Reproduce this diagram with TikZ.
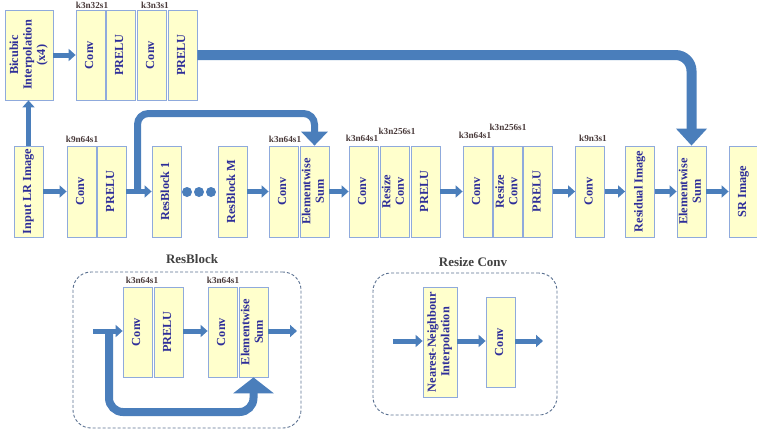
\documentclass[tikz,border=0pt]{standalone}
\usepackage{fontspec}
\setmainfont{Liberation Serif}
\usepackage{graphicx}
\usetikzlibrary{arrows.meta}
\definecolor{boxfill}{HTML}{FFFFCC}
\definecolor{boxline}{HTML}{8FAADC}
\definecolor{txt}{HTML}{2E2E99}
\definecolor{arrc}{HTML}{4A7EBB}
\definecolor{lbl}{HTML}{4A3B3B}
\definecolor{ttl}{HTML}{404040}
\definecolor{dashc}{HTML}{5B7191}
\newcommand{\vtext}[1]{\rotatebox{90}{\begin{tabular}{@{}c@{}}#1\end{tabular}}}
\begin{document}
\begin{tikzpicture}[x=1pt,y=-1pt,
  blk/.style={draw=boxline, line width=0.8pt, fill=boxfill, minimum width=29pt, minimum height=91pt, inner sep=0pt, text=txt, font=\fontsize{12.3}{13.5}\selectfont\bfseries},
  lab/.style={text=lbl, font=\fontsize{9.2}{10}\selectfont\bfseries, inner sep=0pt},
  ttlst/.style={text=ttl, font=\fontsize{13}{14}\selectfont\bfseries, inner sep=0pt},
  frame/.style={draw=dashc, dash pattern=on 3pt off 2pt, line width=0.9pt, rounded corners=18pt, inner sep=0pt},
  arr/.style={draw=arrc, line width=5pt, -{Triangle[length=7pt,width=12pt]}},
  bigarr/.style={draw=arrc, line width=10pt, rounded corners=16pt, -{Triangle[length=17pt,width=30pt]}},
  midarr/.style={draw=arrc, line width=7pt, rounded corners=11pt, -{Triangle[length=14pt,width=26pt]}},
  rbarr/.style={draw=arrc, line width=8pt, rounded corners=14pt, -{Triangle[length=16pt,width=40pt]}},
  dotst/.style={circle, fill=arrc, minimum size=10pt, inner sep=0pt}
]
\useasboundingbox (0,0) rectangle (757,434);

% ---------- top row ----------
\node[blk, minimum width=48pt, minimum height=90pt] (bic) at (29,55) {\vtext{Bicubic\\Interpolation\\(x4)}};
\node[blk, minimum height=90pt] (tc1) at (90.5,55) {\vtext{Conv}};
\node[blk, minimum height=90pt] (tp1) at (120.5,55) {\vtext{PRELU}};
\node[blk, minimum height=90pt] (tc2) at (151.5,55) {\vtext{Conv}};
\node[blk, minimum height=90pt] (tp2) at (182.5,55) {\vtext{PRELU}};
\node[lab] (l1) at (92,5) {k3n32s1};
\node[lab] (l2) at (155,5) {k3n3s1};

% ---------- middle row ----------
\node[blk] (inp) at (28.5,191.5) {\vtext{Input LR Image}};
\node[blk] (c1) at (81.5,191.5) {\vtext{Conv}};
\node[blk] (p1) at (111.5,191.5) {\vtext{PRELU}};
\node[blk] (rb1) at (166.5,191.5) {\vtext{ResBlock 1}};
\node[dotst] (d1) at (187,192) {};
\node[dotst] (d2) at (199,192) {};
\node[dotst] (d3) at (211,192) {};
\node[blk] (rbm) at (232.5,191.5) {\vtext{ResBlock M}};
\node[blk] (c2) at (283.5,191.5) {\vtext{Conv}};
\node[blk] (s1) at (314.5,191.5) {\vtext{Elementwise\\Sum}};
\node[blk] (c3) at (363.5,191.5) {\vtext{Conv}};
\node[blk] (r1) at (394.5,191.5) {\vtext{Resize\\Conv}};
\node[blk] (p3) at (425.5,191.5) {\vtext{PRELU}};
\node[blk] (c4) at (477.5,191.5) {\vtext{Conv}};
\node[blk] (r2) at (508,191.5) {\vtext{Resize\\Conv}};
\node[blk] (p4) at (538,191.5) {\vtext{PRELU}};
\node[blk] (c5) at (590,191.5) {\vtext{Conv}};
\node[blk] (res) at (640,191.5) {\vtext{Residual Image}};
\node[blk] (s2) at (691.5,191.5) {\vtext{Elementwise\\Sum}};
\node[blk] (sr) at (743.5,191.5) {\vtext{SR Image}};

\node[lab] (l3) at (82,139) {k9n64s1};
\node[lab] (l4) at (285,139) {k3n64s1};
\node[lab] (l5) at (362,138) {k3n64s1};
\node[lab] (l6) at (397,131) {k3n256s1};
\node[lab] (l7) at (475,135) {k3n64s1};
\node[lab] (l8) at (508,127) {k3n256s1};
\node[lab] (l9) at (593,138) {k9n3s1};

% ---------- connectors ----------
\draw[arr] (bic.east) -- (tc1.west);
\draw[arr] (inp.north) -- (inp.north |- bic.south);
\draw[arr] (inp.east) -- (c1.west);
\draw[arr] (p1.east) -- (rb1.west);
\draw[arr] (rbm.east) -- (c2.west);
\draw[arr] (s1.east) -- (c3.west);
\draw[arr] (p3.east) -- (c4.west);
\draw[arr] (p4.east) -- (c5.west);
\draw[arr] (c5.east) -- (res.west);
\draw[arr] (res.east) -- (s2.west);
\draw[arr] (s2.east) -- (sr.west);

\draw[bigarr] (tp2.east) -- (s2.north |- tp2.east) -- (s2.north);
\coordinate (skipA) at (137.5,192);
\draw[midarr] (skipA) -- (137.5,113.5) -- (s1.north |- 0,113.5) -- (s1.north);

% ---------- ResBlock detail ----------
\node[frame, minimum width=228pt, minimum height=156pt] (rbframe) at (187,350) {};
\node[ttlst] (rbt) at (192,259) {ResBlock};
\node[blk, minimum height=90pt] (bc1) at (137.5,332) {\vtext{Conv}};
\node[blk, minimum height=90pt] (bp1) at (168.5,332) {\vtext{PRELU}};
\node[blk, minimum height=90pt] (bc2) at (222.5,332) {\vtext{Conv}};
\node[blk, minimum height=90pt] (bs) at (253.5,332) {\vtext{Elementwise\\Sum}};
\node[lab] (l10) at (142,280) {k3n64s1};
\node[lab] (l11) at (223,280) {k3n64s1};
\coordinate (bin) at (93,331);
\coordinate (bout) at (297,331);
\draw[arr] (bin) -- (bc1.west |- bin);
\draw[arr] (bp1.east |- bin) -- (bc2.west |- bin);
\draw[arr] (bs.east |- bin) -- (bout);
\coordinate (bskip) at (109,333);
\draw[rbarr] (bskip) -- (109,412) -- (bs.south |- 0,412) -- (bs.south);

% ---------- Resize Conv detail ----------
\node[frame, minimum width=184pt, minimum height=142pt] (rcframe) at (465,344) {};
\node[ttlst] (rct) at (473,262) {Resize Conv};
\node[blk, minimum width=34pt, minimum height=110pt] (nn) at (440,342) {\vtext{Nearest-Neighbour\\Interpolation}};
\node[blk, minimum height=90pt] (rcc) at (500.5,342) {\vtext{Conv}};
\coordinate (rin) at (393,341);
\coordinate (rout) at (543,341);
\draw[arr] (rin) -- (nn.west |- rin);
\draw[arr] (nn.east |- rin) -- (rcc.west |- rin);
\draw[arr] (rcc.east |- rin) -- (rout);
\end{tikzpicture}
\end{document}
